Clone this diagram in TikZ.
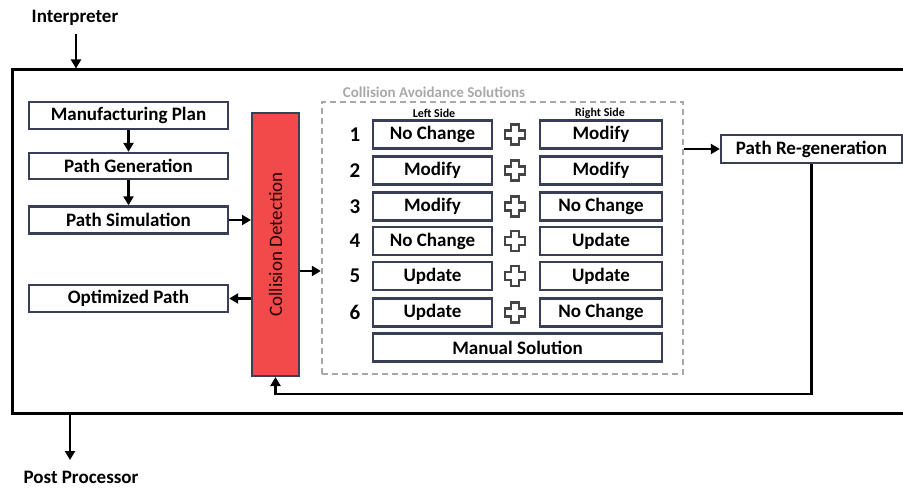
\documentclass[tikz,border=0pt]{standalone}
\usepackage{fontspec}
\setmainfont{Carlito}
\usetikzlibrary{arrows.meta,calc}

\definecolor{boxline}{HTML}{3A3F58}
\definecolor{cdred}{HTML}{F24A4A}
\definecolor{dashgray}{HTML}{A8A8A8}
\definecolor{plusgray}{HTML}{454545}

\tikzset{
  lbl/.style={font=\fontsize{19}{20}\selectfont\bfseries, inner sep=0pt},
  stepbox/.style={draw=boxline, line width=2.4pt, fill=white, rectangle,
    font=\fontsize{19}{20}\selectfont\bfseries, inner sep=0pt},
  arr/.style={line width=2.6pt, -{Triangle[length=9pt,width=10pt]}},
  plusmark/.pic={
    \draw[plusgray, line width=2.4pt, line join=miter]
      (-4,-10) -- (4,-10) -- (4,-4) -- (10,-4) -- (10,4) -- (4,4) -- (4,10)
      -- (-4,10) -- (-4,4) -- (-10,4) -- (-10,-4) -- (-4,-4) -- cycle;
  }
}

\begin{document}
\begin{tikzpicture}[x=1pt,y=-1pt]
\useasboundingbox (0,0) rectangle (903,489);
\clip (0,0) rectangle (903,489);

% enclosing system frame
\node[draw, line width=3pt, minimum width=898pt, minimum height=343pt, inner sep=0pt] (outer) at (461,241.5) {};

% external inputs / outputs
\node[lbl] (interp) at (75,18) {Interpreter};
\draw[arr] (76,34) coordinate (inStart) -- (inStart |- outer.north);
\node[lbl] (post) at (81,477) {Post Processor};
\coordinate (ppEnd) at (70,460);
\draw[arr] (outer.south -| ppEnd) -- (ppEnd);

% planning chain
\node[stepbox, minimum width=199pt, minimum height=27pt] (mp) at (128.5,115.5) {Manufacturing Plan};
\node[stepbox, minimum width=199pt, minimum height=26pt] (pg) at (128.5,166) {Path Generation};
\node[stepbox, minimum width=199pt, minimum height=27pt] (ps) at (128.5,220) {Path Simulation};
\node[stepbox, minimum width=199pt, minimum height=27pt] (op) at (128.5,298.5) {Optimized Path};

\draw[arr] (mp.south) -- (pg.north);
\draw[arr] (pg.south) -- (ps.north);

% collision detection
\node[draw=boxline, line width=2pt, fill=cdred, minimum width=47pt, minimum height=263pt, inner sep=0pt] (cd) at (275.5,244.5) {};
\node[rotate=90, font=\fontsize{19}{20}\selectfont, text=black!85!red, inner sep=0pt] (cdtext) at (cd.center) {Collision Detection};

\draw[arr] (ps.east) -- (cd.west |- ps.east);
\draw[arr] (cd.west |- op.east) -- (op.east);

% avoidance solutions
\node[draw=dashgray, dashed, dash pattern=on 6pt off 4pt, line width=2.4pt, minimum width=361pt, minimum height=272pt, inner sep=0pt] (cas) at (502.5,238) {};
\node[font=\fontsize{15}{17}\selectfont\bfseries, text=dashgray, inner sep=0pt] (castitle) at (434,92) {Collision Avoidance Solutions};
\coordinate (casIn) at (0,271);
\draw[arr] (cd.east |- casIn) -- (cas.west |- casIn);

\node[font=\fontsize{12}{13}\selectfont\bfseries, inner sep=0pt] (lside) at (434,113) {Left Side};
\node[font=\fontsize{12}{13}\selectfont\bfseries, inner sep=0pt] (rside) at (600,113) {Right Side};

\foreach \n/\yy/\la/\ra in {1/134.5/No Change/Modify, 2/170.5/Modify/Modify, 3/206.5/Modify/No Change,
                           4/241/No Change/Update, 5/276/Update/Update, 6/312.5/Update/No Change}{
  \node[lbl, font=\fontsize{21}{22}\selectfont\bfseries] (num\n) at (355,\yy) {\n};
  \node[stepbox, minimum width=119pt, minimum height=28pt] (left\n) at (432.5,\yy) {\la};
  \node[stepbox, minimum width=122pt, minimum height=28pt] (right\n) at (601,\yy) {\ra};
  \pic at (515,\yy) {plusmark};
}
\node[stepbox, minimum width=289pt, minimum height=28pt] (manual) at (517.5,347.5) {Manual Solution};

% regeneration loop
\node[stepbox, minimum width=181pt, minimum height=28pt] (pr) at (811.5,149) {Path Re-generation};
\draw[arr] (cas.east |- pr.west) -- (pr.west);
\coordinate (loop) at (0,394);
\draw[arr] (pr.south) -- (pr.south |- loop) -- (cd.south |- loop) -- (cd.south);
\end{tikzpicture}
\end{document}
